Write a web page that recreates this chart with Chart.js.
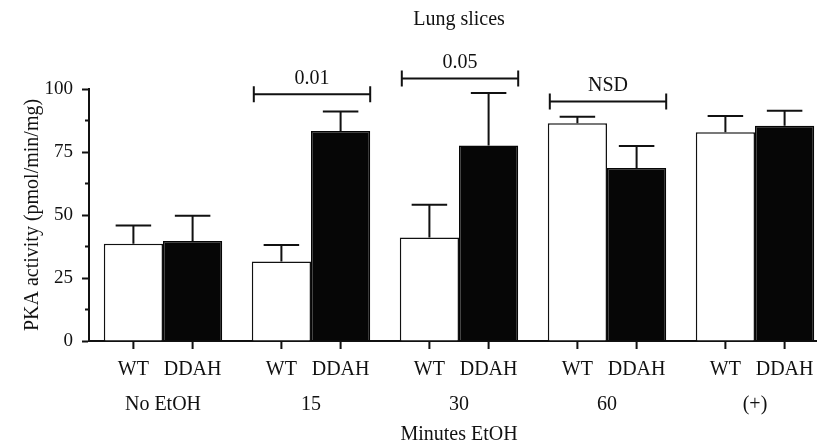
<!DOCTYPE html>
<html>
<head>
<meta charset="utf-8">
<script src="https://cdn.jsdelivr.net/npm/chart.js@4.4.1/dist/chart.umd.min.js"></script>
<style>
html, body { margin: 0; padding: 0; background: #fff; overflow: hidden; }
#wrap { width: 830px; height: 447px; }
</style>
</head>
<body>
<div id="wrap"><canvas id="pkaChart"></canvas></div>
<script>
// values (mean and SEM, pmol/min/mg)
var groups = ['No EtOH', '15', '30', '60', '(+)'];
var seriesNames = ['WT', 'DDAH'];
var wtMean = [38.6, 31.5, 41.1, 86.4, 82.8];
var wtSem = [7.2, 6.6, 13.0, 2.6, 6.5];
var ddahMean = [39.7, 83.3, 77.6, 68.7, 85.4];
var ddahSem = [10.0, 7.8, 20.8, 8.7, 6.0];
var yTicks = [0, 25, 50, 75, 100];

// significance brackets: group index, level on the y scale, text
var bracketGroups = [1, 2, 3];
var bracketValues = [97.9, 104.2, 95.0];
var bracketLabels = ['0.01', '0.05', 'NSD'];

var sems = [wtSem, ddahSem];
var FONT = "'Liberation Serif', 'DejaVu Serif', serif";
var INK = '#111';

// error bars, bar tick marks + WT/DDAH names, minor y ticks, brackets, title
var extras = {
    id: 'extras',
    afterDatasetsDraw: function(chart) {
        var ctx = chart.ctx;
        var y = chart.scales.y;
        var area = chart.chartArea;
        ctx.save();
        ctx.strokeStyle = INK;
        ctx.fillStyle = INK;
        ctx.lineWidth = 2;
        ctx.font = '20px ' + FONT;
        ctx.textAlign = 'center';
        ctx.textBaseline = 'middle';

        chart.data.datasets.forEach(function(ds, i) {
            chart.getDatasetMeta(i).data.forEach(function(bar, j) {
                var top = y.getPixelForValue(ds.data[j] + sems[i][j]);
                var half = bar.width * 0.3;
                ctx.beginPath();
                ctx.moveTo(bar.x, bar.y);
                ctx.lineTo(bar.x, top);
                ctx.moveTo(bar.x - half, top);
                ctx.lineTo(bar.x + half, top);
                ctx.moveTo(bar.x, area.bottom);
                ctx.lineTo(bar.x, area.bottom + 8);
                ctx.stroke();
                ctx.fillText(seriesNames[i], bar.x, area.bottom + 29);
            });
        });

        // short minor ticks between the labelled ones
        ctx.beginPath();
        y.ticks.forEach(function(t) {
            if (yTicks.indexOf(t.value) < 0) {
                var py = y.getPixelForValue(t.value);
                ctx.moveTo(area.left - 4, py);
                ctx.lineTo(area.left, py);
            }
        });
        ctx.stroke();

        var wt = chart.getDatasetMeta(0).data;
        var dd = chart.getDatasetMeta(1).data;
        bracketGroups.forEach(function(g, k) {
            var x0 = wt[g].x - wt[g].width / 2 + 2;
            var x1 = dd[g].x + dd[g].width / 2;
            var py = y.getPixelForValue(bracketValues[k]);
            ctx.beginPath();
            ctx.moveTo(x0, py); ctx.lineTo(x1, py);
            ctx.moveTo(x0, py - 8); ctx.lineTo(x0, py + 8);
            ctx.moveTo(x1, py - 8); ctx.lineTo(x1, py + 8);
            ctx.stroke();
            ctx.fillText(bracketLabels[k], (x0 + x1) / 2, py - 16);
        });

        ctx.fillText('Lung slices', (area.left + area.right) / 2, 20);
        ctx.restore();
    }
};

new Chart(document.getElementById('pkaChart'), {
    type: 'bar',
    data: {
        labels: groups,
        datasets: [{
            label: seriesNames[0],
            data: wtMean,
            backgroundColor: '#ffffff',
            borderColor: INK,
            borderWidth: 1.5
        }, {
            label: seriesNames[1],
            data: ddahMean,
            backgroundColor: '#060606',
            borderColor: '#060606',
            borderWidth: 1.5
        }]
    },
    options: {
        responsive: true,
        maintainAspectRatio: false,
        animation: false,
        datasets: {
            bar: { categoryPercentage: 0.8, barPercentage: 1.0 }
        },
        layout: { padding: { top: 89, right: 1, left: 0, bottom: 0 } },
        plugins: {
            legend: { display: false },
            tooltip: { enabled: false },
            title: { display: false }
        },
        scales: {
            x: {
                grid: { display: false, drawTicks: false },
                border: { display: true, color: INK, width: 2 },
                ticks: { color: INK, font: { family: FONT, size: 20 }, padding: 52, maxRotation: 0 },
                title: {
                    display: true,
                    text: 'Minutes EtOH',
                    color: INK,
                    font: { family: FONT, size: 20 },
                    padding: { top: 0, bottom: 0 }
                },
                afterFit: function(s) { s.height = 106; }
            },
            y: {
                min: 0,
                max: 100,
                ticks: {
                    stepSize: 12.5,
                    padding: 9,
                    color: INK,
                    font: { family: FONT, size: 19 },
                    callback: function(v) { return yTicks.indexOf(v) >= 0 ? v : ''; }
                },
                grid: {
                    drawOnChartArea: false,
                    drawTicks: true,
                    tickLength: 7,
                    tickWidth: 2,
                    tickColor: function(c) {
                        return c.tick && yTicks.indexOf(c.tick.value) >= 0 ? INK : 'rgba(0,0,0,0)';
                    }
                },
                border: { display: true, color: INK, width: 2 },
                title: {
                    display: true,
                    text: 'PKA activity (pmol/min/mg)',
                    color: INK,
                    font: { family: FONT, size: 20 },
                    padding: { top: 21, bottom: 0 }
                },
                afterFit: function(s) { s.width = 89; }
            }
        }
    },
    plugins: [extras]
});
</script>
</body>
</html>
